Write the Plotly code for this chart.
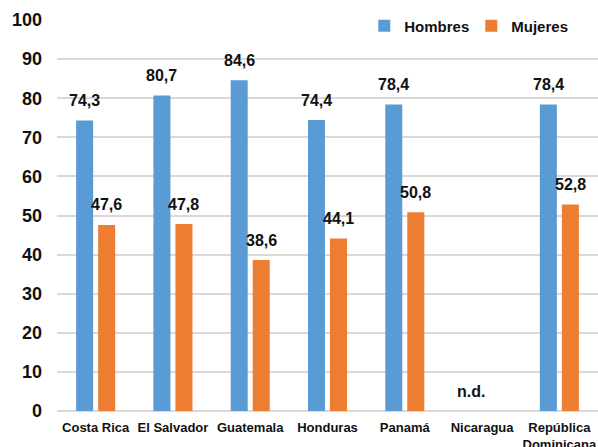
import plotly.graph_objects as go

# Data
paises = ["Costa Rica", "El Salvador", "Guatemala", "Honduras", "Panamá",
          "Nicaragua", "República<br>Dominicana"]
hombres = [74.3, 80.7, 84.6, 74.4, 78.4, None, 78.4]
mujeres = [47.6, 47.8, 38.6, 44.1, 50.8, None, 52.8]
y_ticks = [0, 10, 20, 30, 40, 50, 60, 70, 80, 90, 100]

AZUL = "#5B9BD5"
NARANJA = "#ED7D31"
FONT = "Liberation Sans, Arial, sans-serif"

fig = go.Figure()
fig.add_trace(go.Bar(name="Hombres", x=paises, y=hombres, marker_color=AZUL,
                     marker_line_width=0))
fig.add_trace(go.Bar(name="Mujeres", x=paises, y=mujeres, marker_color=NARANJA,
                     marker_line_width=0))


def fmt(v):
    return "n.d." if v is None else f"{v:.1f}".replace(".", ",")


# Value labels above each bar (no data shown as "n.d." on the first bar)
annotations = []
for serie, shift in ((hombres, -11), (mujeres, 11)):
    for pais, v in zip(paises, serie):
        if v is None and serie is mujeres:
            continue
        annotations.append(dict(
            x=pais, y=0 if v is None else v, xref="x", yref="y",
            text=fmt(v), showarrow=False, xshift=shift, yshift=20,
            yanchor="middle",
            font=dict(family=FONT, size=16, color="#111111", weight="bold"),
        ))

fig.update_layout(
    width=598, height=447,
    margin=dict(l=57, r=0, t=20, b=36),
    paper_bgcolor="white", plot_bgcolor="white",
    barmode="group", bargap=0.43, bargroupgap=0.227,
    font=dict(family=FONT, color="#111111"),
    annotations=annotations,
    legend=dict(orientation="h", x=0.568, y=1.027, xanchor="left", yanchor="top",
                itemwidth=30, entrywidth=62, entrywidthmode="pixels",
                bgcolor="rgba(0,0,0,0)",
                font=dict(family=FONT, size=15, color="#111111", weight="bold")),
    xaxis=dict(showgrid=False, showline=False, ticks="", ticklabelstandoff=7,
               automargin=False, tickangle=0,
               tickfont=dict(family=FONT, size=13, color="#111111", weight="bold")),
    yaxis=dict(range=[0, 100], tickvals=y_ticks, showgrid=True,
               gridcolor="#d9d9d9", gridwidth=1.5, zeroline=True,
               zerolinecolor="#d9d9d9", zerolinewidth=2, showline=False,
               ticks="", ticklabelstandoff=14, automargin=False,
               tickfont=dict(family=FONT, size=18, color="#111111", weight="bold")),
)

fig.write_html("out.html")
